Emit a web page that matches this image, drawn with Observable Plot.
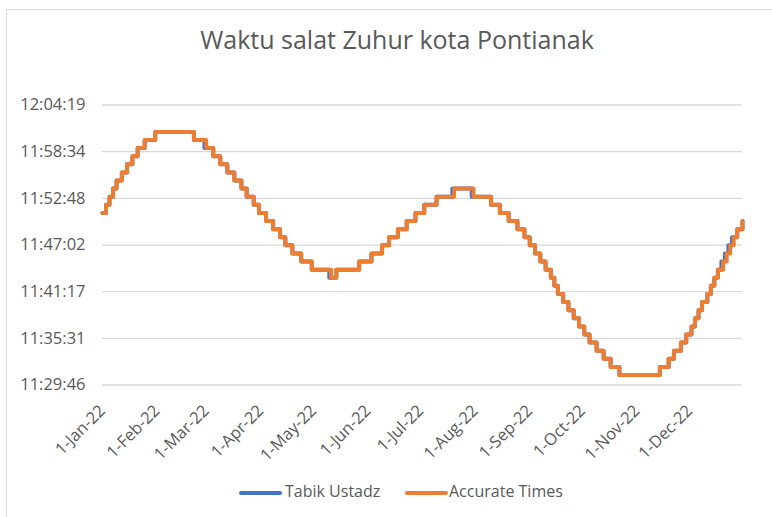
<!DOCTYPE html>
<html>
<head>
<meta charset="utf-8">
<script src="https://cdn.jsdelivr.net/npm/d3@7"></script>
<script src="https://cdn.jsdelivr.net/npm/@observablehq/plot@0.6"></script>
<style>
  html, body { margin: 0; padding: 0; background: #fff; }
  #wrap { position: relative; width: 772px; height: 517px; overflow: hidden; font-family: "Open Sans", sans-serif; color: #595959; }
  #frame { position: absolute; left: 6px; top: 9px; width: 900px; height: 700px; border: 1px solid #d9d9d9; box-sizing: border-box; }
  #title { position: absolute; left: 0; width: 794px; top: 22px; text-align: center; font-size: 25px; color: #595959; white-space: nowrap; }
  #chart { position: absolute; left: 0; top: 0; }
  #legend { position: absolute; left: 0; top: 480px; width: 772px; height: 24px; }
  .sw { position: absolute; height: 4px; top: 11px; border-radius: 2px; }
  .lt { position: absolute; top: 0px; font-size: 16px; white-space: nowrap; }
</style>
</head>
<body>
<div id="wrap">
  <div id="frame"></div>
  <div id="title">Waktu salat Zuhur kota Pontianak</div>
  <div id="chart"></div>
  <div id="legend"></div>
</div>
<script>
// ---- data ----
const seriesNames = ["Tabik Ustadz", "Accurate Times"];
const seriesColors = ["#4472C4", "#ED7D31"];

const yTickLabels = ["11:29:46", "11:35:31", "11:41:17", "11:47:02", "11:52:48", "11:58:34", "12:04:19"];
const xTickDates = ["2022-01-01","2022-02-01","2022-03-01","2022-04-01","2022-05-01","2022-06-01",
                    "2022-07-01","2022-08-01","2022-09-01","2022-10-01","2022-11-01","2022-12-01"];
const xTickLabels = ["1-Jan-22","1-Feb-22","1-Mar-22","1-Apr-22","1-May-22","1-Jun-22",
                     "1-Jul-22","1-Aug-22","1-Sep-22","1-Oct-22","1-Nov-22","1-Dec-22"];
const xDomain = ["2022-01-01", "2022-12-31"];

// Accurate Times: date from which each Zuhur time applies
const accurateSteps = [
  ["2022-01-01","11:51"],["2022-01-03","11:52"],["2022-01-05","11:53"],["2022-01-07","11:54"],
  ["2022-01-09","11:55"],["2022-01-12","11:56"],["2022-01-15","11:57"],["2022-01-18","11:58"],
  ["2022-01-21","11:59"],["2022-01-25","12:00"],["2022-01-31","12:01"],["2022-02-22","12:00"],
  ["2022-03-01","11:59"],["2022-03-05","11:58"],["2022-03-09","11:57"],["2022-03-13","11:56"],
  ["2022-03-17","11:55"],["2022-03-21","11:54"],["2022-03-24","11:53"],["2022-03-28","11:52"],
  ["2022-03-31","11:51"],["2022-04-04","11:50"],["2022-04-08","11:49"],["2022-04-12","11:48"],
  ["2022-04-15","11:47"],["2022-04-19","11:46"],["2022-04-24","11:45"],["2022-04-30","11:44"],
  ["2022-05-11","11:43"],["2022-05-14","11:44"],["2022-05-27","11:45"],["2022-06-03","11:46"],
  ["2022-06-09","11:47"],["2022-06-13","11:48"],["2022-06-18","11:49"],["2022-06-23","11:50"],
  ["2022-06-28","11:51"],["2022-07-03","11:52"],["2022-07-10","11:53"],["2022-07-20","11:54"],
  ["2022-07-31","11:53"],["2022-08-10","11:52"],["2022-08-15","11:51"],["2022-08-20","11:50"],
  ["2022-08-25","11:49"],["2022-08-29","11:48"],["2022-09-01","11:47"],["2022-09-04","11:46"],
  ["2022-09-07","11:45"],["2022-09-10","11:44"],["2022-09-13","11:43"],["2022-09-15","11:42"],
  ["2022-09-17","11:41"],["2022-09-20","11:40"],["2022-09-23","11:39"],["2022-09-26","11:38"],
  ["2022-09-29","11:37"],["2022-10-02","11:36"],["2022-10-05","11:35"],["2022-10-09","11:34"],
  ["2022-10-13","11:33"],["2022-10-17","11:32"],["2022-10-22","11:31"],["2022-11-14","11:32"],
  ["2022-11-19","11:33"],["2022-11-22","11:34"],["2022-11-26","11:35"],["2022-11-29","11:36"],
  ["2022-12-02","11:37"],["2022-12-04","11:38"],["2022-12-06","11:39"],["2022-12-08","11:40"],
  ["2022-12-11","11:41"],["2022-12-13","11:42"],["2022-12-15","11:43"],["2022-12-17","11:44"],
  ["2022-12-20","11:45"],["2022-12-22","11:46"],["2022-12-24","11:47"],["2022-12-26","11:48"],
  ["2022-12-28","11:49"],["2022-12-31","11:50"]
];

// Tabik Ustadz: nearly identical, a few changes one day earlier
const tabikSteps = [
  ["2022-01-01","11:51"],["2022-01-03","11:52"],["2022-01-05","11:53"],["2022-01-07","11:54"],
  ["2022-01-09","11:55"],["2022-01-12","11:56"],["2022-01-15","11:57"],["2022-01-18","11:58"],
  ["2022-01-21","11:59"],["2022-01-25","12:00"],["2022-01-31","12:01"],["2022-02-22","12:00"],
  ["2022-02-28","11:59"],["2022-03-05","11:58"],["2022-03-09","11:57"],["2022-03-13","11:56"],
  ["2022-03-17","11:55"],["2022-03-21","11:54"],["2022-03-24","11:53"],["2022-03-28","11:52"],
  ["2022-03-31","11:51"],["2022-04-04","11:50"],["2022-04-08","11:49"],["2022-04-12","11:48"],
  ["2022-04-15","11:47"],["2022-04-19","11:46"],["2022-04-24","11:45"],["2022-04-30","11:44"],
  ["2022-05-10","11:43"],["2022-05-14","11:44"],["2022-05-27","11:45"],["2022-06-03","11:46"],
  ["2022-06-09","11:47"],["2022-06-13","11:48"],["2022-06-18","11:49"],["2022-06-23","11:50"],
  ["2022-06-28","11:51"],["2022-07-03","11:52"],["2022-07-10","11:53"],["2022-07-19","11:54"],
  ["2022-07-30","11:53"],["2022-08-10","11:52"],["2022-08-15","11:51"],["2022-08-20","11:50"],
  ["2022-08-25","11:49"],["2022-08-29","11:48"],["2022-09-01","11:47"],["2022-09-04","11:46"],
  ["2022-09-07","11:45"],["2022-09-10","11:44"],["2022-09-13","11:43"],["2022-09-15","11:42"],
  ["2022-09-17","11:41"],["2022-09-20","11:40"],["2022-09-23","11:39"],["2022-09-26","11:38"],
  ["2022-09-29","11:37"],["2022-10-02","11:36"],["2022-10-05","11:35"],["2022-10-09","11:34"],
  ["2022-10-13","11:33"],["2022-10-17","11:32"],["2022-10-22","11:31"],["2022-11-14","11:32"],
  ["2022-11-19","11:33"],["2022-11-22","11:34"],["2022-11-26","11:35"],["2022-11-29","11:36"],
  ["2022-12-02","11:37"],["2022-12-04","11:38"],["2022-12-06","11:39"],["2022-12-08","11:40"],
  ["2022-12-11","11:41"],["2022-12-13","11:42"],["2022-12-15","11:43"],["2022-12-17","11:44"],
  ["2022-12-19","11:45"],["2022-12-21","11:46"],["2022-12-23","11:47"],["2022-12-25","11:48"],
  ["2022-12-28","11:49"],["2022-12-31","11:50"]
];

// ---- build ----
const toSec = s => { const p = s.split(":").map(Number); return p[0]*3600 + p[1]*60 + (p[2] || 0); };
const toRows = (steps, name) => steps.map(([d, t]) => ({date: new Date(d), sec: toSec(t), series: name}));
const tabik = toRows(tabikSteps, seriesNames[0]);
const accurate = toRows(accurateSteps, seriesNames[1]);

const yTicks = yTickLabels.map(toSec);
const yLabelOf = new Map(yTicks.map((v, i) => [v, yTickLabels[i]]));
const xTicks = xTickDates.map(d => new Date(d));
const xLabelOf = new Map(xTicks.map((d, i) => [+d, xTickLabels[i]]));

const chart = Plot.plot({
  width: 772,
  height: 517,
  marginTop: 104.5,
  marginBottom: 132.5,
  marginLeft: 102,
  marginRight: 30,
  style: {fontFamily: "'Open Sans', sans-serif", fontSize: "16.5px", color: "#595959", background: "transparent", overflow: "visible"},
  x: {type: "utc", domain: xDomain.map(d => new Date(d)), label: null},
  y: {domain: [yTicks[0], yTicks[yTicks.length - 1]], label: null},
  marks: [
    Plot.gridY(yTicks, {stroke: "#d9d9d9", strokeOpacity: 1, strokeWidth: 1.3}),
    Plot.axisY(yTicks, {tickSize: 0, tickPadding: 17, tickFormat: v => yLabelOf.get(v), fill: "#595959", fontSize: 16.5, label: null}),
    Plot.axisX(xTicks, {tickSize: 0, tickRotate: -45, textAnchor: "end", tickPadding: 23, tickFormat: d => xLabelOf.get(+d), fill: "#595959", fontSize: 16.5, label: null}),
    Plot.line(tabik, {x: "date", y: "sec", curve: "step-after", stroke: seriesColors[0], strokeWidth: 4, strokeLinejoin: "round", strokeLinecap: "round"}),
    Plot.line(accurate, {x: "date", y: "sec", curve: "step-after", stroke: seriesColors[1], strokeWidth: 4, strokeLinejoin: "round", strokeLinecap: "round"})
  ]
});
document.getElementById("chart").appendChild(chart);

// legend
const legend = document.getElementById("legend");
const legendPos = [[239, 285], [405, 449]];
seriesNames.forEach((name, i) => {
  const sw = document.createElement("div");
  sw.className = "sw";
  sw.style.left = legendPos[i][0] + "px";
  sw.style.width = "43px";
  sw.style.background = seriesColors[i];
  legend.appendChild(sw);
  const t = document.createElement("div");
  t.className = "lt";
  t.style.left = legendPos[i][1] + "px";
  t.textContent = name;
  legend.appendChild(t);
});
</script>
</body>
</html>
